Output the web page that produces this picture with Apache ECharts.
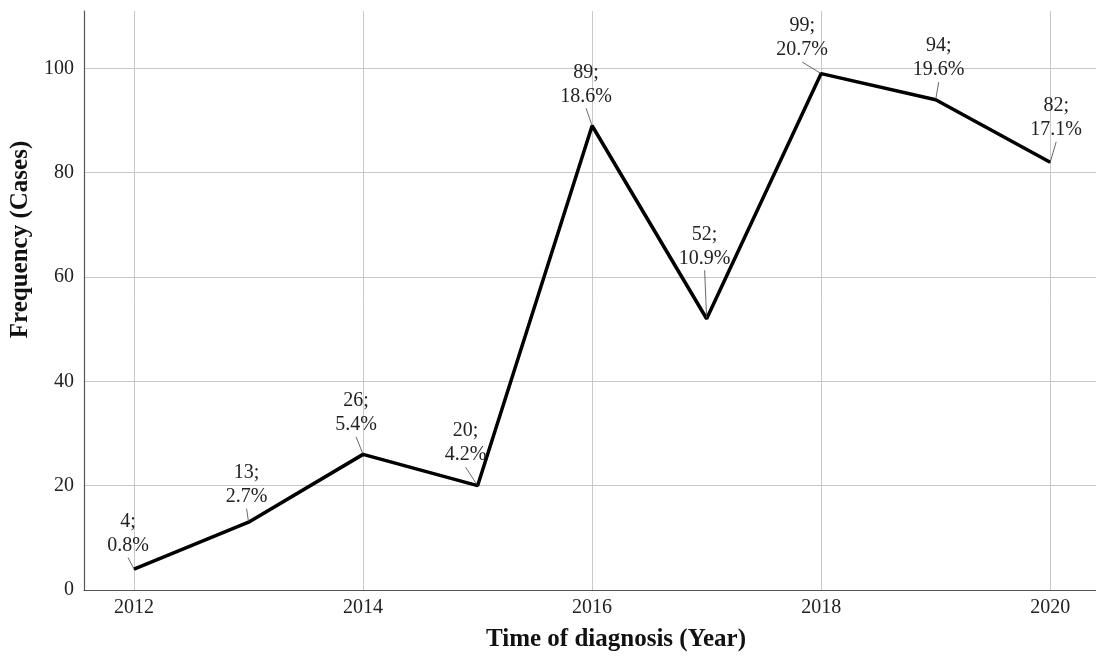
<!DOCTYPE html>
<html>
<head>
    <meta charset="utf-8" />
    <style>
        html, body { margin: 0; padding: 0; background: #fff; }
        #lineChart { width: 1096px; height: 657px; }
    </style>
    <script src="https://cdn.jsdelivr.net/npm/echarts@6/dist/echarts.min.js"></script>
</head>
<body>
    <div id="lineChart"></div>
    <script type="text/javascript">
        // data
        var years = [2012, 2013, 2014, 2015, 2016, 2017, 2018, 2019, 2020];
        var cases = [4, 13, 26, 20, 89, 52, 99, 94, 82];
        var percents = ['0.8', '2.7', '5.4', '4.2', '18.6', '10.9', '20.7', '19.6', '17.1'];

        // label nudges (dx, dy) so the callouts sit like the original
        var labelShift = [[-6, -11], [-2, -13], [-7, -17], [-12, -18], [-6, -17], [-2, -48], [-19, -11], [3, -17], [6, -20]];

        var seriesData = [];
        for (var i = 0; i < years.length; i++) {
            seriesData.push([years[i], cases[i]]);
        }

        var serif = '"Liberation Serif", "Times New Roman", serif';

        var myLineChart = echarts.init(document.getElementById('lineChart'));
        var lineOptions = {
            backgroundColor: '#fff',
            animation: false,
            grid: { left: 84, top: 11, right: 0, bottom: 67 },
            xAxis: {
                type: 'value',
                min: 2011.563,
                max: 2020.4,
                splitNumber: 4,
                name: 'Time of diagnosis (Year)',
                nameLocation: 'middle',
                nameGap: 37,
                nameTextStyle: { fontFamily: serif, fontWeight: 'bold', fontSize: 25, color: '#111', padding: [0, 0, 0, 52] },
                axisLine: { show: true, lineStyle: { color: '#555', width: 1.2 } },
                axisTick: { show: false },
                axisLabel: {
                    fontFamily: serif, fontSize: 20, color: '#222', margin: 8,
                    showMinLabel: false, showMaxLabel: false,
                    formatter: function (v) { return (Math.abs(v - Math.round(v)) < 1e-6) ? String(Math.round(v)) : ''; }
                },
                splitLine: { show: true, showMinLine: false, showMaxLine: false, lineStyle: { color: '#c8c8c8', width: 1 } }
            },
            yAxis: {
                type: 'value',
                min: 0,
                max: 111,
                interval: 20,
                name: 'Frequency (Cases)',
                nameLocation: 'middle',
                nameGap: 47,
                nameTextStyle: { fontFamily: serif, fontWeight: 'bold', fontSize: 25, color: '#111', padding: [0, 0, 0, 122] },
                axisLine: { show: true, lineStyle: { color: '#555', width: 1.2 } },
                axisTick: { show: false },
                axisLabel: { fontFamily: serif, fontSize: 20, color: '#222', margin: 10, showMaxLabel: false },
                splitLine: { show: true, showMaxLine: false, lineStyle: { color: '#c8c8c8', width: 1 } }
            },
            series: [{
                type: 'line',
                data: seriesData,
                symbol: 'circle',
                symbolSize: 1,
                showSymbol: true,
                itemStyle: { color: '#000' },
                lineStyle: { color: '#000', width: 3.5 },
                label: {
                    show: true,
                    position: 'top',
                    distance: 0,
                    fontFamily: serif,
                    fontSize: 20,
                    lineHeight: 24,
                    color: '#222',
                    align: 'center',
                    formatter: function (p) {
                        return cases[p.dataIndex] + ';\n' + percents[p.dataIndex] + '%';
                    }
                },
                labelLine: { show: true, lineStyle: { color: '#444', width: 0.8 } },
                labelLayout: function (p) {
                    var s = labelShift[p.dataIndex];
                    return { dx: s[0], dy: s[1] };
                }
            }]
        };
        myLineChart.setOption(lineOptions);
    </script>
</body>
</html>
